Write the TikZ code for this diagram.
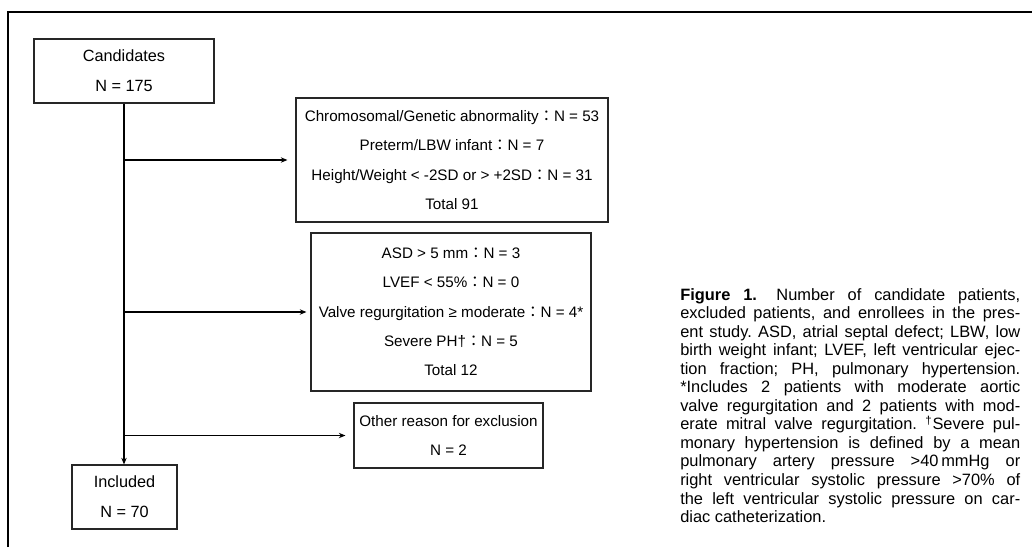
\documentclass[tikz,border=0pt]{standalone}
\usepackage{fontspec}
\setmainfont{Liberation Sans}
\newfontfamily\cjk{Noto Sans CJK JP}
\newfontfamily\capfont{Liberation Sans}
\usetikzlibrary{arrows.meta}
\newcommand{\fc}{{\cjk ：}}
\newcommand{\capline}[1]{\makebox[255pt][s]{#1}}
\begin{document}
\begin{tikzpicture}[x=0.75pt,y=-0.75pt,
  box/.style={draw=black!85, line width=0.8pt, align=center, inner sep=0pt,
    font=\fontsize{11.4pt}{22pt}\selectfont},
  bigbox/.style={box, font=\fontsize{12.2pt}{22.5pt}\selectfont},
  arr/.style={line width=0.9pt, -{Stealth[length=5pt,width=4pt]}}
]
\useasboundingbox (0,0) rectangle (1032,547);
\fill[white] (0,0) rectangle (1032,547);
\draw[line width=1.6pt] (8,547) -- (8,12) -- (1032,12);

\node[bigbox, minimum width=135pt, minimum height=48pt] (cand) at (124,71) {Candidates\\N = 175};
\node[box, minimum width=234pt, minimum height=93pt] (b2) at (452,160)
  {Chromosomal/Genetic abnormality\fc N = 53\\Preterm/LBW infant\fc N = 7\\Height/Weight < -2SD or > +2SD\fc N = 31\\Total 91};
\node[box, minimum width=210pt, minimum height=118.5pt] (b3) at (451,312)
  {ASD > 5 mm\fc N = 3\\LVEF < 55\%\fc N = 0\\Valve regurgitation ≥ moderate\fc N = 4*\\Severe PH†\fc N = 5\\Total 12};
\node[box, minimum width=141.75pt, minimum height=48.75pt] (b4) at (448.5,435.5)
  {Other reason for exclusion\\N = 2};
\node[bigbox, minimum width=78.75pt, minimum height=48pt] (incl) at (124.5,497) {Included\\N = 70};

\draw[arr] (cand.south) -- (cand.south |- incl.north);
\coordinate (j1) at (cand.south |- b2.west);
\coordinate (j2) at (cand.south |- b3.west);
\coordinate (j3) at (cand.south |- b4.west);
\draw[arr, shorten >=6pt] (j1) -- (b2.west);
\draw[arr, shorten >=3pt] (j2) -- (b3.west);
\draw[arr, shorten >=6pt] (j3) -- (b4.west);

\node[anchor=north west, inner sep=0pt, align=left,
  font=\capfont\fontsize{12.3pt}{13.9pt}\selectfont\frenchspacing] (cap) at (680,288) {%
\capline{\textbf{Figure 1.}\hspace{5pt} Number of candidate patients,}\\
\capline{excluded patients, and enrollees in the pres-}\\
\capline{ent study. ASD, atrial septal defect; LBW, low}\\
\capline{birth weight infant; LVEF, left ventricular ejec-}\\
\capline{tion fraction; PH, pulmonary hypertension.}\\
\capline{*Includes 2 patients with moderate aortic}\\
\capline{valve regurgitation and 2 patients with mod-}\\
\capline{erate mitral valve regurgitation. \textsuperscript{†}Severe pul-}\\
\capline{monary hypertension is defined by a mean}\\
\capline{pulmonary artery pressure >40\,mmHg or}\\
\capline{right ventricular systolic pressure >70\% of}\\
\capline{the left ventricular systolic pressure on car-}\\
diac catheterization.};
\end{tikzpicture}
\end{document}
